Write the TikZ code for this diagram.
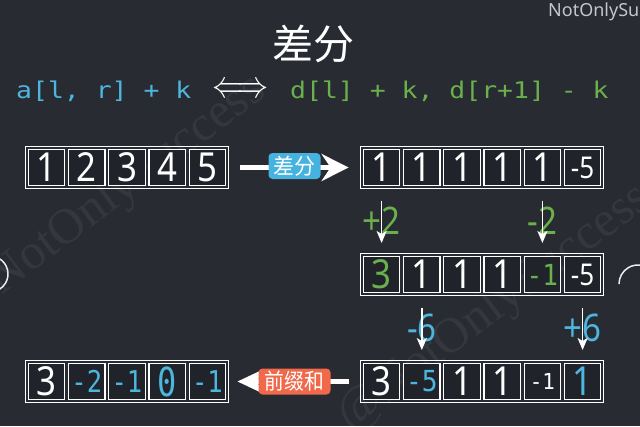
\documentclass[tikz,border=0pt]{standalone}
\usepackage{fontspec}
\usetikzlibrary{arrows.meta,fit,calc}
\newfontfamily\digf{Noto Sans}
\newfontfamily\monof{DejaVu Sans Mono}
\newfontfamily\cjk{Noto Sans CJK SC}
\newfontfamily\wmf{Liberation Serif}
\definecolor{bgc}{HTML}{282B32}
\definecolor{cellc}{HTML}{202329}
\definecolor{cy}{HTML}{4DB6DE}
\definecolor{gr}{HTML}{6AB04C}
\definecolor{cylbl}{HTML}{45B2E0}
\definecolor{orlbl}{HTML}{F0694B}
\definecolor{wmc}{HTML}{C4C6C9}
\newcommand{\sx}[2]{\scalebox{#1}[1]{#2}}
\newcommand{\fs}[1]{\fontsize{#1}{#1}\selectfont}
\newcommand{\bd}[1]{\sx{0.87}{#1}}
\newcommand{\md}[3]{{\monof\fs{#1}\sx{#2}{#3}}}
\tikzset{
  cell/.style={draw=white, line width=1.3pt, fill=cellc, minimum width=36.4pt,
    minimum height=36pt, inner sep=0pt, outer sep=0pt, text=white, font=\digf\fs{40}},
  rowbox/.style={draw=white, line width=1.3pt, inner sep=2.8pt, outer sep=0pt},
  bigarr/.style={draw=white, line width=4.5pt, -{Stealth[length=27pt, width=27pt, inset=9pt]}},
  bigarrb/.style={draw=white, line width=4.5pt, -{Stealth[length=24pt, width=22pt, inset=4pt]}},
  darr/.style={draw=white, line width=1.5pt, -{Stealth[length=12pt, width=10pt, inset=3pt]}},
  lbl/.style={rounded corners=4pt, text=white, font=\cjk\fs{22}, minimum height=26pt,
    inner xsep=3pt, inner ysep=0pt},
  delta/.style={font=\digf\fs{38}, inner sep=0pt},
  wm/.style={font=\wmf\fs{50}, text=white, opacity=0.06, rotate=37, inner sep=0pt}
}
\begin{document}
\begin{tikzpicture}[x=1pt, y=-1pt]
\useasboundingbox (0,0) rectangle (640,426);
\clip (0,0) rectangle (640,426);
\fill[bgc] (0,0) rectangle (640,426);

% watermarks
\node[wm, anchor=base east] (wm1) at (268,95) {@NotOnlySuccess};
\node[wm, anchor=base west] (wm2) at (350,432) {@NotOnlySuccess};
\node[anchor=base west, inner sep=0pt, font=\digf\bfseries\fs{18}, text=wmc] (wm3) at (548,16.5) {NotOnlySuccess};

% side arcs
\draw[line width=1.5pt, white!85!gray] (-10,274) ++(-60:18) arc[start angle=-60, end angle=60, radius=18];
\draw[line width=1.5pt, white!85!gray] (638,284) ++(180:19) arc[start angle=180, end angle=280, radius=19];

% title and formula
\node[font=\cjk\fs{41}, text=white, inner sep=0pt] (title) at (313,44) {差分};
\node[anchor=base west, inner sep=0pt, text=cy] (fa) at (16,98) {\md{23}{1.15}{a[l, r] + k}};
\node[inner sep=0pt, text=white] (iff) at (240.5,90) {\resizebox{57pt}{14pt}{$\Longleftrightarrow$}};
\node[anchor=base west, inner sep=0pt, text=gr] (fd) at (290,98) {\md{23}{1.15}{d[l] + k, d[r+1] - k}};

% row A left
\node[cell] (a1) at (46.6,167.5) {\bd{1}};
\node[cell] (a2) at (86.8,167.5) {\bd{2}};
\node[cell] (a3) at (127.0,167.5) {\bd{3}};
\node[cell] (a4) at (167.2,167.5) {\bd{4}};
\node[cell] (a5) at (207.4,167.5) {\bd{5}};
\node[rowbox, fit=(a1)(a5)] (A) {};

% row A right
\node[cell] (b1) at (381.6,167.5) {\bd{1}};
\node[cell] (b2) at (421.8,167.5) {\bd{1}};
\node[cell] (b3) at (462.0,167.5) {\bd{1}};
\node[cell] (b4) at (502.2,167.5) {\bd{1}};
\node[cell] (b5) at (542.4,167.5) {\bd{1}};
\node[cell] (b6) at (582.6,167.5) {{\fs{30}\bd{-5}}};
\node[rowbox, fit=(b1)(b6)] (B) {};

% row B right
\node[cell, text=gr] (c1) at (381.6,274.5) {\bd{3}};
\node[cell] (c2) at (421.8,274.5) {\bd{1}};
\node[cell] (c3) at (462.0,274.5) {\bd{1}};
\node[cell] (c4) at (502.2,274.5) {\bd{1}};
\node[cell, text=gr] (c5) at (542.4,274.5) {\md{29}{0.9}{-1}};
\node[cell] (c6) at (582.6,274.5) {{\fs{30}\bd{-5}}};
\node[rowbox, fit=(c1)(c6)] (C) {};

% row C right
\node[cell] (d1) at (381.6,381.5) {\bd{3}};
\node[cell, text=cy] (d2) at (421.8,381.5) {\md{29}{0.9}{-5}};
\node[cell] (d3) at (462.0,381.5) {\bd{1}};
\node[cell] (d4) at (502.2,381.5) {\bd{1}};
\node[cell] (d5) at (542.4,381.5) {\md{22}{0.95}{-1}};
\node[cell, text=cy] (d6) at (582.6,381.5) {\bd{1}};
\node[rowbox, fit=(d1)(d6)] (D) {};

% row C left
\node[cell] (e1) at (46.6,381.5) {\bd{3}};
\node[cell, text=cy] (e2) at (86.8,381.5) {\md{30}{0.85}{-2}};
\node[cell, text=cy] (e3) at (127.0,381.5) {\md{30}{0.85}{-1}};
\node[cell, text=cy] (e4) at (167.2,381.5) {\md{40}{0.8}{0}};
\node[cell, text=cy] (e5) at (207.4,381.5) {\md{30}{0.85}{-1}};
\node[rowbox, fit=(e1)(e5)] (E) {};

% difference arrow
\draw[bigarr, shorten <=12pt, shorten >=12pt] (A) -- (B);
\path (A) -- (B) node[midway, lbl, fill=cylbl, minimum width=52pt, yshift=1.5pt] (lblA) {\sx{0.95}{差分}};

% updates
\path (b1) -- (c1) node[midway, delta, text=gr] (t1) {\bd{+2}};
\draw[darr, shorten <=15pt, shorten >=13.5pt] (b1) -- (c1);
\path (b5) -- (c5) node[midway, delta, text=gr] (t2) {\bd{-2}};
\draw[darr, shorten <=15pt, shorten >=13.5pt] (b5) -- (c5);
\path (c2) -- (d2) node[midway, delta, text=cy] (t3) {\bd{-6}};
\draw[darr, shorten <=15pt, shorten >=13.5pt] (c2) -- (d2);
\path (c6) -- (d6) node[midway, delta, text=cy] (t4) {\bd{+6}};
\draw[darr, shorten <=15pt, shorten >=13.5pt] (c6) -- (d6);

% prefix sum arrow
\draw[bigarrb, shorten <=12pt, shorten >=9pt] (D) -- (E);
\path (D) -- (E) node[midway, lbl, fill=orlbl, minimum width=72pt] (lblB) {\sx{0.9}{前缀和}};
\end{tikzpicture}
\end{document}
